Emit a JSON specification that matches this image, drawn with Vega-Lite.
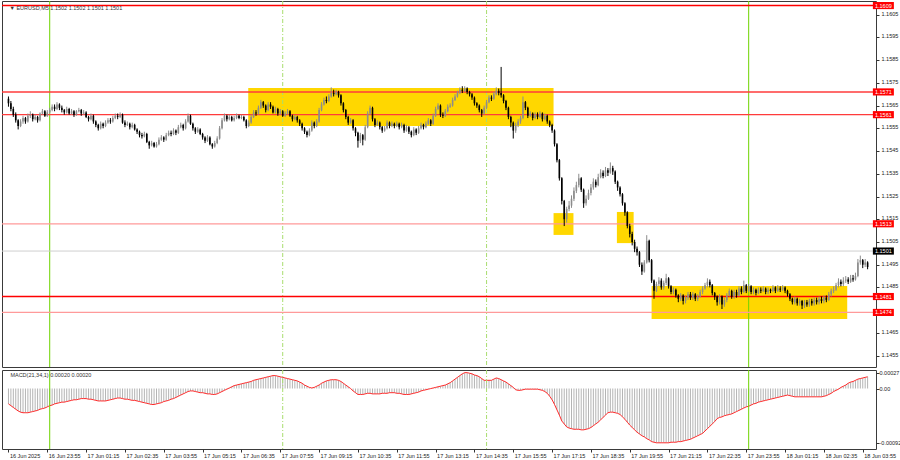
{
"$schema": "https://vega.github.io/schema/vega-lite/v6.json",
"padding": 0,
"spacing": 1,
"background": "white",
"config": {
  "view": {"stroke": "#3a3a3a", "strokeWidth": 1},
  "font": "Liberation Sans",
  "axis": {"labelFont": "Liberation Sans", "labelFontSize": 5.5, "labelColor": "#222222", "tickColor": "#333333", "tickSize": 3, "domain": false, "grid": false, "title": null, "labelOverlap": false, "labelFlush": false}
},
"datasets": {
"bars": [
{"i":0,"o":1.1568,"h":1.1569,"l":1.15645,"c":1.1566,"m":-0.00026},
{"i":1,"o":1.1566,"h":1.1567,"l":1.15625,"c":1.15635,"m":-0.00029},
{"i":2,"o":1.15635,"h":1.15645,"l":1.156,"c":1.1561,"m":-0.00032},
{"i":3,"o":1.1561,"h":1.1562,"l":1.15575,"c":1.15585,"m":-0.00035},
{"i":4,"o":1.15585,"h":1.1559,"l":1.15545,"c":1.1556,"m":-0.00038},
{"i":5,"o":1.1556,"h":1.1559,"l":1.15555,"c":1.1558,"m":-0.0004},
{"i":6,"o":1.1558,"h":1.15605,"l":1.1557,"c":1.15595,"m":-0.00041},
{"i":7,"o":1.15595,"h":1.156,"l":1.1557,"c":1.1558,"m":-0.00041},
{"i":8,"o":1.1558,"h":1.15615,"l":1.15575,"c":1.15605,"m":-0.00041},
{"i":9,"o":1.15605,"h":1.15625,"l":1.15595,"c":1.1561,"m":-0.0004},
{"i":10,"o":1.1561,"h":1.15615,"l":1.1558,"c":1.1559,"m":-0.00039},
{"i":11,"o":1.1559,"h":1.1561,"l":1.15585,"c":1.156,"m":-0.00038},
{"i":12,"o":1.156,"h":1.15605,"l":1.15575,"c":1.15585,"m":-0.00037},
{"i":13,"o":1.15585,"h":1.1562,"l":1.1558,"c":1.15615,"m":-0.00035},
{"i":14,"o":1.15615,"h":1.15635,"l":1.1561,"c":1.15625,"m":-0.00034},
{"i":15,"o":1.15625,"h":1.1563,"l":1.156,"c":1.15605,"m":-0.00033},
{"i":16,"o":1.15605,"h":1.1563,"l":1.156,"c":1.1562,"m":-0.00031},
{"i":17,"o":1.1562,"h":1.1564,"l":1.15615,"c":1.1563,"m":-0.00029},
{"i":18,"o":1.1563,"h":1.15655,"l":1.15625,"c":1.15645,"m":-0.00028},
{"i":19,"o":1.15645,"h":1.15655,"l":1.15625,"c":1.15635,"m":-0.00026},
{"i":20,"o":1.15635,"h":1.15665,"l":1.1563,"c":1.15655,"m":-0.00025},
{"i":21,"o":1.15655,"h":1.1566,"l":1.1563,"c":1.1564,"m":-0.00024},
{"i":22,"o":1.1564,"h":1.1565,"l":1.1562,"c":1.1563,"m":-0.00023},
{"i":23,"o":1.1563,"h":1.15635,"l":1.1561,"c":1.1562,"m":-0.00023},
{"i":24,"o":1.1562,"h":1.15645,"l":1.15615,"c":1.15635,"m":-0.00022},
{"i":25,"o":1.15635,"h":1.1564,"l":1.1561,"c":1.15615,"m":-0.00021},
{"i":26,"o":1.15615,"h":1.15635,"l":1.1561,"c":1.15625,"m":-0.0002},
{"i":27,"o":1.15625,"h":1.1563,"l":1.156,"c":1.1561,"m":-0.00019},
{"i":28,"o":1.1561,"h":1.1563,"l":1.15605,"c":1.15625,"m":-0.00019},
{"i":29,"o":1.15625,"h":1.1564,"l":1.1562,"c":1.1563,"m":-0.00018},
{"i":30,"o":1.1563,"h":1.15635,"l":1.15605,"c":1.15615,"m":-0.00017},
{"i":31,"o":1.15615,"h":1.1563,"l":1.1561,"c":1.1562,"m":-0.00017},
{"i":32,"o":1.1562,"h":1.15625,"l":1.15595,"c":1.156,"m":-0.00017},
{"i":33,"o":1.156,"h":1.15605,"l":1.1558,"c":1.1559,"m":-0.00018},
{"i":34,"o":1.1559,"h":1.15615,"l":1.15585,"c":1.15605,"m":-0.00018},
{"i":35,"o":1.15605,"h":1.1561,"l":1.1557,"c":1.1558,"m":-0.00019},
{"i":36,"o":1.1558,"h":1.15585,"l":1.15555,"c":1.15565,"m":-0.0002},
{"i":37,"o":1.15565,"h":1.1557,"l":1.1554,"c":1.1555,"m":-0.00021},
{"i":38,"o":1.1555,"h":1.1558,"l":1.15545,"c":1.1557,"m":-0.00021},
{"i":39,"o":1.1557,"h":1.15575,"l":1.1555,"c":1.1556,"m":-0.00021},
{"i":40,"o":1.1556,"h":1.15585,"l":1.15555,"c":1.15575,"m":-0.00021},
{"i":41,"o":1.15575,"h":1.15595,"l":1.1557,"c":1.15585,"m":-0.0002},
{"i":42,"o":1.15585,"h":1.15595,"l":1.1557,"c":1.1558,"m":-0.00019},
{"i":43,"o":1.1558,"h":1.15605,"l":1.15575,"c":1.15595,"m":-0.00018},
{"i":44,"o":1.15595,"h":1.15615,"l":1.1559,"c":1.15605,"m":-0.00017},
{"i":45,"o":1.15605,"h":1.15615,"l":1.1559,"c":1.156,"m":-0.00016},
{"i":46,"o":1.156,"h":1.1562,"l":1.15595,"c":1.1561,"m":-0.00016},
{"i":47,"o":1.1561,"h":1.15615,"l":1.1557,"c":1.15575,"m":-0.00017},
{"i":48,"o":1.15575,"h":1.15585,"l":1.15555,"c":1.15565,"m":-0.00018},
{"i":49,"o":1.15565,"h":1.1558,"l":1.1556,"c":1.1557,"m":-0.00018},
{"i":50,"o":1.1557,"h":1.15575,"l":1.15545,"c":1.15555,"m":-0.00019},
{"i":51,"o":1.15555,"h":1.15575,"l":1.1555,"c":1.15565,"m":-0.0002},
{"i":52,"o":1.15565,"h":1.1557,"l":1.1554,"c":1.15545,"m":-0.0002},
{"i":53,"o":1.15545,"h":1.1555,"l":1.15525,"c":1.15535,"m":-0.00021},
{"i":54,"o":1.15535,"h":1.1554,"l":1.1551,"c":1.1552,"m":-0.00022},
{"i":55,"o":1.1552,"h":1.1553,"l":1.15505,"c":1.15515,"m":-0.00023},
{"i":56,"o":1.15515,"h":1.15535,"l":1.1551,"c":1.15525,"m":-0.00024},
{"i":57,"o":1.15525,"h":1.1553,"l":1.15485,"c":1.1549,"m":-0.00025},
{"i":58,"o":1.1549,"h":1.15495,"l":1.1546,"c":1.15475,"m":-0.00026},
{"i":59,"o":1.15475,"h":1.15495,"l":1.1547,"c":1.15485,"m":-0.00027},
{"i":60,"o":1.15485,"h":1.1549,"l":1.15465,"c":1.1547,"m":-0.00027},
{"i":61,"o":1.1547,"h":1.1549,"l":1.15465,"c":1.1548,"m":-0.00026},
{"i":62,"o":1.1548,"h":1.1551,"l":1.15475,"c":1.155,"m":-0.00025},
{"i":63,"o":1.155,"h":1.1552,"l":1.15495,"c":1.1551,"m":-0.00024},
{"i":64,"o":1.1551,"h":1.15515,"l":1.1549,"c":1.155,"m":-0.00022},
{"i":65,"o":1.155,"h":1.1553,"l":1.15495,"c":1.1552,"m":-0.00021},
{"i":66,"o":1.1552,"h":1.1554,"l":1.15515,"c":1.1553,"m":-0.0002},
{"i":67,"o":1.1553,"h":1.1554,"l":1.15515,"c":1.15525,"m":-0.00018},
{"i":68,"o":1.15525,"h":1.1555,"l":1.1552,"c":1.1554,"m":-0.00017},
{"i":69,"o":1.1554,"h":1.15545,"l":1.1552,"c":1.1553,"m":-0.00015},
{"i":70,"o":1.1553,"h":1.15565,"l":1.15525,"c":1.15555,"m":-0.00013},
{"i":71,"o":1.15555,"h":1.15575,"l":1.1555,"c":1.15565,"m":-0.00011},
{"i":72,"o":1.15565,"h":1.1557,"l":1.1554,"c":1.1555,"m":-0.00009},
{"i":73,"o":1.1555,"h":1.1559,"l":1.15545,"c":1.1558,"m":-0.00007},
{"i":74,"o":1.1558,"h":1.15615,"l":1.15575,"c":1.15605,"m":-0.00005},
{"i":75,"o":1.15605,"h":1.1561,"l":1.15565,"c":1.1557,"m":-0.00004},
{"i":76,"o":1.1557,"h":1.15575,"l":1.1554,"c":1.1555,"m":-0.00004},
{"i":77,"o":1.1555,"h":1.15555,"l":1.15525,"c":1.15535,"m":-0.00005},
{"i":78,"o":1.15535,"h":1.15555,"l":1.1553,"c":1.15545,"m":-0.00006},
{"i":79,"o":1.15545,"h":1.1555,"l":1.1552,"c":1.15525,"m":-0.00007},
{"i":80,"o":1.15525,"h":1.1553,"l":1.155,"c":1.1551,"m":-0.00007},
{"i":81,"o":1.1551,"h":1.15515,"l":1.15485,"c":1.15495,"m":-0.00008},
{"i":82,"o":1.15495,"h":1.1552,"l":1.1549,"c":1.1551,"m":-0.00009},
{"i":83,"o":1.1551,"h":1.15515,"l":1.15475,"c":1.1548,"m":-0.00009},
{"i":84,"o":1.1548,"h":1.15485,"l":1.1546,"c":1.1547,"m":-0.0001},
{"i":85,"o":1.1547,"h":1.15495,"l":1.15465,"c":1.15485,"m":-0.0001},
{"i":86,"o":1.15485,"h":1.15515,"l":1.1548,"c":1.15505,"m":-0.00009},
{"i":87,"o":1.15505,"h":1.1556,"l":1.155,"c":1.1555,"m":-0.00007},
{"i":88,"o":1.1555,"h":1.15595,"l":1.15545,"c":1.15585,"m":-0.00005},
{"i":89,"o":1.15585,"h":1.15615,"l":1.1558,"c":1.15605,"m":-0.00003},
{"i":90,"o":1.15605,"h":1.1561,"l":1.1558,"c":1.1559,"m":-0.00001},
{"i":91,"o":1.1559,"h":1.1561,"l":1.15585,"c":1.156,"m":0.00001},
{"i":92,"o":1.156,"h":1.15605,"l":1.1558,"c":1.15585,"m":0.00003},
{"i":93,"o":1.15585,"h":1.15605,"l":1.1558,"c":1.15595,"m":0.00005},
{"i":94,"o":1.15595,"h":1.15615,"l":1.1559,"c":1.15605,"m":0.00006},
{"i":95,"o":1.15605,"h":1.1561,"l":1.1559,"c":1.15595,"m":0.00007},
{"i":96,"o":1.15595,"h":1.1561,"l":1.1559,"c":1.156,"m":0.00008},
{"i":97,"o":1.156,"h":1.15605,"l":1.1558,"c":1.15585,"m":0.00009},
{"i":98,"o":1.15585,"h":1.1559,"l":1.1555,"c":1.1556,"m":0.0001},
{"i":99,"o":1.1556,"h":1.15585,"l":1.15555,"c":1.15575,"m":0.00011},
{"i":100,"o":1.15575,"h":1.1561,"l":1.1557,"c":1.156,"m":0.00012},
{"i":101,"o":1.156,"h":1.1563,"l":1.15595,"c":1.1562,"m":0.00014},
{"i":102,"o":1.1562,"h":1.1563,"l":1.15605,"c":1.15615,"m":0.00015},
{"i":103,"o":1.15615,"h":1.1565,"l":1.1561,"c":1.1564,"m":0.00016},
{"i":104,"o":1.1564,"h":1.15675,"l":1.15635,"c":1.15665,"m":0.00017},
{"i":105,"o":1.15665,"h":1.1567,"l":1.1564,"c":1.1565,"m":0.00018},
{"i":106,"o":1.1565,"h":1.15655,"l":1.1562,"c":1.1563,"m":0.00019},
{"i":107,"o":1.1563,"h":1.15665,"l":1.15625,"c":1.15655,"m":0.0002},
{"i":108,"o":1.15655,"h":1.15665,"l":1.15635,"c":1.15645,"m":0.00021},
{"i":109,"o":1.15645,"h":1.1565,"l":1.15615,"c":1.1562,"m":0.00022},
{"i":110,"o":1.1562,"h":1.15645,"l":1.15615,"c":1.15635,"m":0.00022},
{"i":111,"o":1.15635,"h":1.1564,"l":1.15605,"c":1.15615,"m":0.00021},
{"i":112,"o":1.15615,"h":1.15635,"l":1.1561,"c":1.15625,"m":0.0002},
{"i":113,"o":1.15625,"h":1.1563,"l":1.156,"c":1.15605,"m":0.00019},
{"i":114,"o":1.15605,"h":1.15625,"l":1.156,"c":1.15615,"m":0.00018},
{"i":115,"o":1.15615,"h":1.15635,"l":1.1561,"c":1.15625,"m":0.00017},
{"i":116,"o":1.15625,"h":1.1563,"l":1.156,"c":1.15605,"m":0.00016},
{"i":117,"o":1.15605,"h":1.1561,"l":1.1558,"c":1.1559,"m":0.00015},
{"i":118,"o":1.1559,"h":1.1561,"l":1.15585,"c":1.156,"m":0.00014},
{"i":119,"o":1.156,"h":1.15605,"l":1.15575,"c":1.15585,"m":0.00013},
{"i":120,"o":1.15585,"h":1.1559,"l":1.1556,"c":1.1557,"m":0.00011},
{"i":121,"o":1.1557,"h":1.15575,"l":1.1554,"c":1.1555,"m":0.00009},
{"i":122,"o":1.1555,"h":1.15555,"l":1.15525,"c":1.15535,"m":0.00006},
{"i":123,"o":1.15535,"h":1.1554,"l":1.1551,"c":1.1552,"m":0.00004},
{"i":124,"o":1.1552,"h":1.1555,"l":1.15515,"c":1.1554,"m":0.00002},
{"i":125,"o":1.1554,"h":1.15585,"l":1.15535,"c":1.15575,"m":0.00001},
{"i":126,"o":1.15575,"h":1.1558,"l":1.1555,"c":1.1556,"m":0.00002},
{"i":127,"o":1.1556,"h":1.1559,"l":1.15555,"c":1.1558,"m":0.00004},
{"i":128,"o":1.1558,"h":1.1564,"l":1.15575,"c":1.1563,"m":0.00006},
{"i":129,"o":1.1563,"h":1.15665,"l":1.15625,"c":1.15655,"m":0.00009},
{"i":130,"o":1.15655,"h":1.15685,"l":1.1565,"c":1.15675,"m":0.00011},
{"i":131,"o":1.15675,"h":1.1569,"l":1.1566,"c":1.1567,"m":0.00013},
{"i":132,"o":1.1567,"h":1.157,"l":1.15665,"c":1.1569,"m":0.00014},
{"i":133,"o":1.1569,"h":1.1573,"l":1.15685,"c":1.15705,"m":0.00015},
{"i":134,"o":1.15705,"h":1.1572,"l":1.1569,"c":1.157,"m":0.00015},
{"i":135,"o":1.157,"h":1.1572,"l":1.15695,"c":1.1571,"m":0.00015},
{"i":136,"o":1.1571,"h":1.15715,"l":1.15685,"c":1.15695,"m":0.00014},
{"i":137,"o":1.15695,"h":1.157,"l":1.1565,"c":1.1566,"m":0.00012},
{"i":138,"o":1.1566,"h":1.15665,"l":1.1562,"c":1.1563,"m":0.00009},
{"i":139,"o":1.1563,"h":1.15635,"l":1.1559,"c":1.156,"m":0.00006},
{"i":140,"o":1.156,"h":1.15605,"l":1.15565,"c":1.15575,"m":0.00003},
{"i":141,"o":1.15575,"h":1.15595,"l":1.1557,"c":1.15585,"m":0},
{"i":142,"o":1.15585,"h":1.1559,"l":1.1554,"c":1.1555,"m":-0.00004},
{"i":143,"o":1.1555,"h":1.15555,"l":1.15515,"c":1.1553,"m":-0.00007},
{"i":144,"o":1.1553,"h":1.15535,"l":1.15465,"c":1.15495,"m":-0.0001},
{"i":145,"o":1.15495,"h":1.1553,"l":1.15485,"c":1.1552,"m":-0.0001},
{"i":146,"o":1.1552,"h":1.15525,"l":1.15475,"c":1.155,"m":-0.0001},
{"i":147,"o":1.155,"h":1.15565,"l":1.15495,"c":1.15555,"m":-0.00009},
{"i":148,"o":1.15555,"h":1.15625,"l":1.1555,"c":1.15615,"m":-0.00008},
{"i":149,"o":1.15615,"h":1.1565,"l":1.1561,"c":1.1564,"m":-0.00008},
{"i":150,"o":1.1564,"h":1.15645,"l":1.1558,"c":1.1559,"m":-0.00009},
{"i":151,"o":1.1559,"h":1.15595,"l":1.15555,"c":1.15565,"m":-0.00009},
{"i":152,"o":1.15565,"h":1.15585,"l":1.1556,"c":1.15575,"m":-0.00009},
{"i":153,"o":1.15575,"h":1.1558,"l":1.15545,"c":1.15555,"m":-0.00009},
{"i":154,"o":1.15555,"h":1.1556,"l":1.1553,"c":1.1554,"m":-0.00008},
{"i":155,"o":1.1554,"h":1.1556,"l":1.15535,"c":1.1555,"m":-0.00008},
{"i":156,"o":1.1555,"h":1.15585,"l":1.15545,"c":1.15575,"m":-0.00008},
{"i":157,"o":1.15575,"h":1.1558,"l":1.1555,"c":1.1556,"m":-0.00007},
{"i":158,"o":1.1556,"h":1.1558,"l":1.15555,"c":1.1557,"m":-0.00007},
{"i":159,"o":1.1557,"h":1.15575,"l":1.1555,"c":1.1556,"m":-0.00007},
{"i":160,"o":1.1556,"h":1.1558,"l":1.15555,"c":1.1557,"m":-0.00008},
{"i":161,"o":1.1557,"h":1.15575,"l":1.15545,"c":1.15555,"m":-0.00008},
{"i":162,"o":1.15555,"h":1.15575,"l":1.1555,"c":1.15565,"m":-0.00009},
{"i":163,"o":1.15565,"h":1.1557,"l":1.1553,"c":1.1554,"m":-0.0001},
{"i":164,"o":1.1554,"h":1.15565,"l":1.15535,"c":1.15555,"m":-0.0001},
{"i":165,"o":1.15555,"h":1.1556,"l":1.15525,"c":1.15535,"m":-0.0001},
{"i":166,"o":1.15535,"h":1.1554,"l":1.1551,"c":1.1552,"m":-0.00009},
{"i":167,"o":1.1552,"h":1.15555,"l":1.15515,"c":1.15545,"m":-0.00008},
{"i":168,"o":1.15545,"h":1.1555,"l":1.1552,"c":1.1553,"m":-0.00007},
{"i":169,"o":1.1553,"h":1.1556,"l":1.15525,"c":1.1555,"m":-0.00006},
{"i":170,"o":1.1555,"h":1.15575,"l":1.15545,"c":1.15565,"m":-0.00004},
{"i":171,"o":1.15565,"h":1.1557,"l":1.15545,"c":1.15555,"m":-0.00003},
{"i":172,"o":1.15555,"h":1.1558,"l":1.1555,"c":1.1557,"m":-0.00002},
{"i":173,"o":1.1557,"h":1.15595,"l":1.15565,"c":1.15585,"m":-0.00001},
{"i":174,"o":1.15585,"h":1.1559,"l":1.1556,"c":1.1557,"m":0},
{"i":175,"o":1.1557,"h":1.15615,"l":1.15565,"c":1.15605,"m":0.00001},
{"i":176,"o":1.15605,"h":1.15645,"l":1.156,"c":1.15635,"m":0.00002},
{"i":177,"o":1.15635,"h":1.1566,"l":1.1563,"c":1.1565,"m":0.00003},
{"i":178,"o":1.1565,"h":1.15655,"l":1.156,"c":1.1561,"m":0.00004},
{"i":179,"o":1.1561,"h":1.1562,"l":1.15595,"c":1.15605,"m":0.00005},
{"i":180,"o":1.15605,"h":1.15635,"l":1.156,"c":1.15625,"m":0.00006},
{"i":181,"o":1.15625,"h":1.15655,"l":1.1562,"c":1.15645,"m":0.00008},
{"i":182,"o":1.15645,"h":1.1566,"l":1.1564,"c":1.1565,"m":0.0001},
{"i":183,"o":1.1565,"h":1.15685,"l":1.15645,"c":1.15675,"m":0.00013},
{"i":184,"o":1.15675,"h":1.157,"l":1.1567,"c":1.1569,"m":0.00016},
{"i":185,"o":1.1569,"h":1.15715,"l":1.15685,"c":1.15705,"m":0.00019},
{"i":186,"o":1.15705,"h":1.1573,"l":1.157,"c":1.1572,"m":0.00022},
{"i":187,"o":1.1572,"h":1.15735,"l":1.15705,"c":1.15715,"m":0.00025},
{"i":188,"o":1.15715,"h":1.15735,"l":1.1571,"c":1.15725,"m":0.00027},
{"i":189,"o":1.15725,"h":1.1573,"l":1.157,"c":1.1571,"m":0.00027},
{"i":190,"o":1.1571,"h":1.15715,"l":1.1569,"c":1.157,"m":0.00026},
{"i":191,"o":1.157,"h":1.15705,"l":1.15675,"c":1.15685,"m":0.00025},
{"i":192,"o":1.15685,"h":1.1569,"l":1.1565,"c":1.1566,"m":0.00023},
{"i":193,"o":1.1566,"h":1.15665,"l":1.1564,"c":1.1565,"m":0.00022},
{"i":194,"o":1.1565,"h":1.15655,"l":1.1562,"c":1.1563,"m":0.0002},
{"i":195,"o":1.1563,"h":1.15635,"l":1.156,"c":1.15615,"m":0.00017},
{"i":196,"o":1.15615,"h":1.1565,"l":1.1561,"c":1.1564,"m":0.00014},
{"i":197,"o":1.1564,"h":1.15675,"l":1.15635,"c":1.15665,"m":0.00014},
{"i":198,"o":1.15665,"h":1.15695,"l":1.1566,"c":1.15685,"m":0.00014},
{"i":199,"o":1.15685,"h":1.15695,"l":1.1567,"c":1.1568,"m":0.00014},
{"i":200,"o":1.1568,"h":1.1571,"l":1.15675,"c":1.157,"m":0.00016},
{"i":201,"o":1.157,"h":1.1573,"l":1.15695,"c":1.15715,"m":0.00018},
{"i":202,"o":1.15715,"h":1.15725,"l":1.15695,"c":1.15705,"m":0.00017},
{"i":203,"o":1.15705,"h":1.1582,"l":1.15685,"c":1.15695,"m":0.00015},
{"i":204,"o":1.15695,"h":1.157,"l":1.1566,"c":1.1567,"m":0.00013},
{"i":205,"o":1.1567,"h":1.15675,"l":1.1563,"c":1.1564,"m":0.00011},
{"i":206,"o":1.1564,"h":1.15645,"l":1.1559,"c":1.156,"m":0.00008},
{"i":207,"o":1.156,"h":1.15605,"l":1.15555,"c":1.15575,"m":0.00005},
{"i":208,"o":1.15575,"h":1.1558,"l":1.15505,"c":1.1554,"m":0.00002},
{"i":209,"o":1.1554,"h":1.15575,"l":1.1553,"c":1.15565,"m":-0.00002},
{"i":210,"o":1.15565,"h":1.1559,"l":1.15555,"c":1.1558,"m":-0.00003},
{"i":211,"o":1.1558,"h":1.15605,"l":1.1557,"c":1.15595,"m":-0.00003},
{"i":212,"o":1.15595,"h":1.1569,"l":1.1559,"c":1.15665,"m":-0.00002},
{"i":213,"o":1.15665,"h":1.1567,"l":1.1563,"c":1.1564,"m":-0.00001},
{"i":214,"o":1.1564,"h":1.15645,"l":1.15595,"c":1.15605,"m":-0.00001},
{"i":215,"o":1.15605,"h":1.15625,"l":1.156,"c":1.15615,"m":-0.00001},
{"i":216,"o":1.15615,"h":1.1562,"l":1.15585,"c":1.15595,"m":-0.00001},
{"i":217,"o":1.15595,"h":1.1562,"l":1.1559,"c":1.1561,"m":-0.00001},
{"i":218,"o":1.1561,"h":1.1562,"l":1.1559,"c":1.156,"m":-0.00001},
{"i":219,"o":1.156,"h":1.15625,"l":1.15595,"c":1.15615,"m":-0.00002},
{"i":220,"o":1.15615,"h":1.1562,"l":1.1558,"c":1.1559,"m":-0.00003},
{"i":221,"o":1.1559,"h":1.15615,"l":1.15585,"c":1.15605,"m":-0.00005},
{"i":222,"o":1.15605,"h":1.1561,"l":1.1557,"c":1.1558,"m":-0.00008},
{"i":223,"o":1.1558,"h":1.15585,"l":1.15555,"c":1.15565,"m":-0.00013},
{"i":224,"o":1.15565,"h":1.1557,"l":1.1553,"c":1.1554,"m":-0.00019},
{"i":225,"o":1.1554,"h":1.15545,"l":1.1547,"c":1.1548,"m":-0.00027},
{"i":226,"o":1.1548,"h":1.15485,"l":1.154,"c":1.1541,"m":-0.00036},
{"i":227,"o":1.1541,"h":1.15415,"l":1.1532,"c":1.1533,"m":-0.00045},
{"i":228,"o":1.1533,"h":1.15335,"l":1.15215,"c":1.1523,"m":-0.00055},
{"i":229,"o":1.1523,"h":1.15235,"l":1.1512,"c":1.1515,"m":-0.0006},
{"i":230,"o":1.1515,"h":1.15205,"l":1.15135,"c":1.15195,"m":-0.00065},
{"i":231,"o":1.15195,"h":1.1523,"l":1.15185,"c":1.1521,"m":-0.00067},
{"i":232,"o":1.1521,"h":1.15255,"l":1.152,"c":1.1524,"m":-0.00068},
{"i":233,"o":1.1524,"h":1.1529,"l":1.1523,"c":1.15275,"m":-0.00069},
{"i":234,"o":1.15275,"h":1.15315,"l":1.15265,"c":1.153,"m":-0.00069},
{"i":235,"o":1.153,"h":1.1535,"l":1.1529,"c":1.1533,"m":-0.00069},
{"i":236,"o":1.1533,"h":1.15335,"l":1.1527,"c":1.1528,"m":-0.0007},
{"i":237,"o":1.1528,"h":1.15285,"l":1.152,"c":1.1522,"m":-0.0007},
{"i":238,"o":1.1522,"h":1.15255,"l":1.1521,"c":1.1524,"m":-0.00069},
{"i":239,"o":1.1524,"h":1.1528,"l":1.15235,"c":1.15265,"m":-0.00068},
{"i":240,"o":1.15265,"h":1.15305,"l":1.15255,"c":1.1529,"m":-0.00066},
{"i":241,"o":1.1529,"h":1.1533,"l":1.1528,"c":1.15315,"m":-0.00063},
{"i":242,"o":1.15315,"h":1.15325,"l":1.1529,"c":1.153,"m":-0.0006},
{"i":243,"o":1.153,"h":1.1535,"l":1.15295,"c":1.15335,"m":-0.00057},
{"i":244,"o":1.15335,"h":1.1537,"l":1.1533,"c":1.15355,"m":-0.00053},
{"i":245,"o":1.15355,"h":1.15365,"l":1.1533,"c":1.1534,"m":-0.00049},
{"i":246,"o":1.1534,"h":1.1538,"l":1.15335,"c":1.15365,"m":-0.00045},
{"i":247,"o":1.15365,"h":1.15375,"l":1.1534,"c":1.15355,"m":-0.00041},
{"i":248,"o":1.15355,"h":1.154,"l":1.1535,"c":1.15375,"m":-0.0004},
{"i":249,"o":1.15375,"h":1.15385,"l":1.15345,"c":1.1536,"m":-0.0004},
{"i":250,"o":1.1536,"h":1.15365,"l":1.15305,"c":1.15315,"m":-0.00041},
{"i":251,"o":1.15315,"h":1.1532,"l":1.15275,"c":1.1529,"m":-0.00042},
{"i":252,"o":1.1529,"h":1.15295,"l":1.1525,"c":1.1526,"m":-0.00044},
{"i":253,"o":1.1526,"h":1.15265,"l":1.1521,"c":1.1522,"m":-0.00048},
{"i":254,"o":1.1522,"h":1.15225,"l":1.15165,"c":1.1518,"m":-0.00052},
{"i":255,"o":1.1518,"h":1.15185,"l":1.1511,"c":1.1512,"m":-0.00057},
{"i":256,"o":1.1512,"h":1.1513,"l":1.1507,"c":1.15085,"m":-0.00062},
{"i":257,"o":1.15085,"h":1.15095,"l":1.15035,"c":1.1505,"m":-0.00066},
{"i":258,"o":1.1505,"h":1.1506,"l":1.15005,"c":1.1502,"m":-0.0007},
{"i":259,"o":1.1502,"h":1.1503,"l":1.1499,"c":1.15005,"m":-0.00074},
{"i":260,"o":1.15005,"h":1.1501,"l":1.1494,"c":1.1495,"m":-0.00077},
{"i":261,"o":1.1495,"h":1.1496,"l":1.14905,"c":1.1492,"m":-0.0008},
{"i":262,"o":1.1492,"h":1.1497,"l":1.14915,"c":1.1496,"m":-0.00082},
{"i":263,"o":1.1496,"h":1.1508,"l":1.14955,"c":1.15055,"m":-0.00085},
{"i":264,"o":1.15055,"h":1.1506,"l":1.1496,"c":1.1497,"m":-0.00087},
{"i":265,"o":1.1497,"h":1.14975,"l":1.1487,"c":1.1488,"m":-0.0009},
{"i":266,"o":1.1488,"h":1.14885,"l":1.148,"c":1.14835,"m":-0.00091},
{"i":267,"o":1.14835,"h":1.14875,"l":1.1483,"c":1.14865,"m":-0.00092},
{"i":268,"o":1.14865,"h":1.14895,"l":1.14855,"c":1.1488,"m":-0.00092},
{"i":269,"o":1.1488,"h":1.1489,"l":1.1484,"c":1.1485,"m":-0.00092},
{"i":270,"o":1.1485,"h":1.1488,"l":1.1484,"c":1.1487,"m":-0.00092},
{"i":271,"o":1.1487,"h":1.1491,"l":1.1486,"c":1.1489,"m":-0.00092},
{"i":272,"o":1.1489,"h":1.14895,"l":1.14845,"c":1.14855,"m":-0.00092},
{"i":273,"o":1.14855,"h":1.1486,"l":1.1482,"c":1.1483,"m":-0.00091},
{"i":274,"o":1.1483,"h":1.1485,"l":1.1482,"c":1.1484,"m":-0.00091},
{"i":275,"o":1.1484,"h":1.14845,"l":1.14805,"c":1.14815,"m":-0.00091},
{"i":276,"o":1.14815,"h":1.1482,"l":1.14785,"c":1.148,"m":-0.0009},
{"i":277,"o":1.148,"h":1.14825,"l":1.1479,"c":1.14815,"m":-0.0009},
{"i":278,"o":1.14815,"h":1.1482,"l":1.14775,"c":1.1479,"m":-0.00089},
{"i":279,"o":1.1479,"h":1.14815,"l":1.1478,"c":1.14805,"m":-0.00088},
{"i":280,"o":1.14805,"h":1.1483,"l":1.14795,"c":1.1482,"m":-0.00087},
{"i":281,"o":1.1482,"h":1.1483,"l":1.14795,"c":1.14805,"m":-0.00086},
{"i":282,"o":1.14805,"h":1.1483,"l":1.14795,"c":1.1482,"m":-0.00084},
{"i":283,"o":1.1482,"h":1.14825,"l":1.1479,"c":1.148,"m":-0.00082},
{"i":284,"o":1.148,"h":1.1482,"l":1.1479,"c":1.1481,"m":-0.0008},
{"i":285,"o":1.1481,"h":1.1484,"l":1.14805,"c":1.1483,"m":-0.00078},
{"i":286,"o":1.1483,"h":1.14855,"l":1.1482,"c":1.14845,"m":-0.00076},
{"i":287,"o":1.14845,"h":1.1487,"l":1.1484,"c":1.1486,"m":-0.00072},
{"i":288,"o":1.1486,"h":1.1489,"l":1.1485,"c":1.14875,"m":-0.00068},
{"i":289,"o":1.14875,"h":1.14885,"l":1.1485,"c":1.1486,"m":-0.00064},
{"i":290,"o":1.1486,"h":1.14865,"l":1.14815,"c":1.14825,"m":-0.0006},
{"i":291,"o":1.14825,"h":1.1483,"l":1.14795,"c":1.1481,"m":-0.00056},
{"i":292,"o":1.1481,"h":1.14815,"l":1.1477,"c":1.14785,"m":-0.00051},
{"i":293,"o":1.14785,"h":1.1482,"l":1.14775,"c":1.1481,"m":-0.00049},
{"i":294,"o":1.1481,"h":1.14815,"l":1.14755,"c":1.14775,"m":-0.00048},
{"i":295,"o":1.14775,"h":1.14805,"l":1.14765,"c":1.14795,"m":-0.00046},
{"i":296,"o":1.14795,"h":1.14825,"l":1.14785,"c":1.14815,"m":-0.00045},
{"i":297,"o":1.14815,"h":1.14845,"l":1.1481,"c":1.14835,"m":-0.00044},
{"i":298,"o":1.14835,"h":1.1484,"l":1.148,"c":1.1481,"m":-0.00043},
{"i":299,"o":1.1481,"h":1.1484,"l":1.148,"c":1.1483,"m":-0.00041},
{"i":300,"o":1.1483,"h":1.1484,"l":1.14805,"c":1.14815,"m":-0.00039},
{"i":301,"o":1.14815,"h":1.14855,"l":1.1481,"c":1.14845,"m":-0.00037},
{"i":302,"o":1.14845,"h":1.14855,"l":1.1482,"c":1.1483,"m":-0.00035},
{"i":303,"o":1.1483,"h":1.1488,"l":1.14825,"c":1.1486,"m":-0.00033},
{"i":304,"o":1.1486,"h":1.14865,"l":1.14825,"c":1.14835,"m":-0.00031},
{"i":305,"o":1.14835,"h":1.14865,"l":1.1483,"c":1.14855,"m":-0.0003},
{"i":306,"o":1.14855,"h":1.1486,"l":1.1482,"c":1.1483,"m":-0.00028},
{"i":307,"o":1.1483,"h":1.1485,"l":1.1482,"c":1.1484,"m":-0.00026},
{"i":308,"o":1.1484,"h":1.14845,"l":1.14815,"c":1.14825,"m":-0.00025},
{"i":309,"o":1.14825,"h":1.1485,"l":1.1482,"c":1.1484,"m":-0.00023},
{"i":310,"o":1.1484,"h":1.1485,"l":1.14825,"c":1.14835,"m":-0.00022},
{"i":311,"o":1.14835,"h":1.14855,"l":1.1483,"c":1.14845,"m":-0.00021},
{"i":312,"o":1.14845,"h":1.1485,"l":1.1482,"c":1.1483,"m":-0.0002},
{"i":313,"o":1.1483,"h":1.1485,"l":1.1482,"c":1.1484,"m":-0.00019},
{"i":314,"o":1.1484,"h":1.14845,"l":1.14825,"c":1.14835,"m":-0.00018},
{"i":315,"o":1.14835,"h":1.1486,"l":1.1483,"c":1.1485,"m":-0.00017},
{"i":316,"o":1.1485,"h":1.14855,"l":1.14825,"c":1.14835,"m":-0.00016},
{"i":317,"o":1.14835,"h":1.1486,"l":1.1483,"c":1.14845,"m":-0.00015},
{"i":318,"o":1.14845,"h":1.14855,"l":1.1483,"c":1.1484,"m":-0.00014},
{"i":319,"o":1.1484,"h":1.1486,"l":1.14835,"c":1.1485,"m":-0.00013},
{"i":320,"o":1.1485,"h":1.14855,"l":1.14825,"c":1.14835,"m":-0.00012},
{"i":321,"o":1.14835,"h":1.1484,"l":1.1481,"c":1.1482,"m":-0.00011},
{"i":322,"o":1.1482,"h":1.14825,"l":1.1479,"c":1.148,"m":-0.00012},
{"i":323,"o":1.148,"h":1.14805,"l":1.14775,"c":1.14785,"m":-0.00013},
{"i":324,"o":1.14785,"h":1.1481,"l":1.14775,"c":1.148,"m":-0.00014},
{"i":325,"o":1.148,"h":1.14805,"l":1.1477,"c":1.1478,"m":-0.00014},
{"i":326,"o":1.1478,"h":1.148,"l":1.1477,"c":1.1479,"m":-0.00014},
{"i":327,"o":1.1479,"h":1.14795,"l":1.14755,"c":1.1477,"m":-0.00014},
{"i":328,"o":1.1477,"h":1.14795,"l":1.1476,"c":1.14785,"m":-0.00014},
{"i":329,"o":1.14785,"h":1.14795,"l":1.14765,"c":1.14775,"m":-0.00014},
{"i":330,"o":1.14775,"h":1.148,"l":1.14765,"c":1.1479,"m":-0.00014},
{"i":331,"o":1.1479,"h":1.148,"l":1.1477,"c":1.1478,"m":-0.00014},
{"i":332,"o":1.1478,"h":1.14805,"l":1.1477,"c":1.14795,"m":-0.00014},
{"i":333,"o":1.14795,"h":1.14805,"l":1.14775,"c":1.14785,"m":-0.00014},
{"i":334,"o":1.14785,"h":1.1481,"l":1.14775,"c":1.148,"m":-0.00014},
{"i":335,"o":1.148,"h":1.1481,"l":1.1478,"c":1.1479,"m":-0.00014},
{"i":336,"o":1.1479,"h":1.14815,"l":1.1478,"c":1.14805,"m":-0.00013},
{"i":337,"o":1.14805,"h":1.14815,"l":1.14785,"c":1.14795,"m":-0.00012},
{"i":338,"o":1.14795,"h":1.1483,"l":1.1479,"c":1.1482,"m":-0.0001},
{"i":339,"o":1.1482,"h":1.14845,"l":1.1481,"c":1.14835,"m":-0.00008},
{"i":340,"o":1.14835,"h":1.14855,"l":1.14825,"c":1.1484,"m":-0.00005},
{"i":341,"o":1.1484,"h":1.1487,"l":1.14835,"c":1.1486,"m":-0.00003},
{"i":342,"o":1.1486,"h":1.1489,"l":1.1485,"c":1.14875,"m":-0.00001},
{"i":343,"o":1.14875,"h":1.14885,"l":1.14855,"c":1.14865,"m":0.00002},
{"i":344,"o":1.14865,"h":1.14895,"l":1.14855,"c":1.1488,"m":0.00004},
{"i":345,"o":1.1488,"h":1.149,"l":1.1487,"c":1.14885,"m":0.00006},
{"i":346,"o":1.14885,"h":1.14895,"l":1.14865,"c":1.14875,"m":0.00009},
{"i":347,"o":1.14875,"h":1.14905,"l":1.1487,"c":1.1489,"m":0.00011},
{"i":348,"o":1.1489,"h":1.14905,"l":1.14875,"c":1.14885,"m":0.00012},
{"i":349,"o":1.14885,"h":1.14915,"l":1.1488,"c":1.149,"m":0.00014},
{"i":350,"o":1.149,"h":1.14975,"l":1.14895,"c":1.1496,"m":0.00016},
{"i":351,"o":1.1496,"h":1.1499,"l":1.1495,"c":1.1497,"m":0.00017},
{"i":352,"o":1.1497,"h":1.14975,"l":1.14935,"c":1.1495,"m":0.00018},
{"i":353,"o":1.1495,"h":1.14975,"l":1.1494,"c":1.1496,"m":0.00019},
{"i":354,"o":1.1496,"h":1.14965,"l":1.1493,"c":1.1494,"m":0.0002}
],
"levels": [
{"p":1.1609,"kind":"major"},
{"p":1.1571,"kind":"level"},
{"p":1.1561,"kind":"level"},
{"p":1.1513,"kind":"minor"},
{"p":1.1501,"kind":"bid"},
{"p":1.1481,"kind":"major"},
{"p":1.1474,"kind":"minor"}
],
"zones": [
{"a":98.8,"b":224.6,"p1":1.15727,"p2":1.1556},
{"a":224.6,"b":232.8,"p1":1.15177,"p2":1.15081},
{"a":250.7,"b":257.6,"p1":1.15182,"p2":1.15045},
{"a":265.0,"b":345.6,"p1":1.14856,"p2":1.14711}
],
"vlines": [
{"i":17,"kind":"day"},
{"i":113,"kind":"session"},
{"i":197,"kind":"session"},
{"i":305,"kind":"day"}
]
},
"vconcat": [
{
"width": 874,
"height": 366,
"resolve": {"scale": {"color": "independent", "strokeWidth": "independent", "strokeDash": "independent"}},
"layer": [
{
"data": {"name": "zones"},
"mark": {"type": "rect", "color": "#FFD700"},
"encoding": {
"x": {"field": "a", "type": "quantitative", "scale": {"domain": [-0.6, 355.4], "nice": false, "zero": false}, "axis": null},
"x2": {"field": "b"},
"y": {"field": "p1", "type": "quantitative", "scale": {"domain": [1.145, 1.1611], "nice": false, "zero": false},
"axis": {"orient": "right", "values": [1.1455,1.1465,1.1485,1.1495,1.1505,1.1515,1.1525,1.1535,1.1545,1.1555,1.1565,1.1575,1.1585,1.1595,1.1605], "format": ".4f", "labelPadding": 2, "labelOffset": -1.5, "labelOverlap": false}},
"y2": {"field": "p2"}
}
},
{
"data": {"name": "vlines"},
"mark": {"type": "rule"},
"encoding": {
"x": {"field": "i", "type": "quantitative", "scale": {"domain": [-0.6, 355.4], "nice": false, "zero": false}, "axis": null},
"color": {"field": "kind", "type": "nominal", "scale": {"domain": ["day", "session"], "range": ["#6fd400", "#a9dd6e"]}, "legend": null},
"strokeDash": {"field": "kind", "type": "nominal", "scale": {"domain": ["day", "session"], "range": [[1, 0], [4, 2, 1, 2]]}, "legend": null}
}
},
{
"data": {"name": "levels"},
"mark": {"type": "rule"},
"encoding": {
"y": {"field": "p", "type": "quantitative", "scale": {"domain": [1.145, 1.1611], "nice": false, "zero": false},
"axis": {"orient": "right", "values": [1.1455,1.1465,1.1485,1.1495,1.1505,1.1515,1.1525,1.1535,1.1545,1.1555,1.1565,1.1575,1.1585,1.1595,1.1605], "format": ".4f", "labelPadding": 2, "labelOffset": -1.5, "labelOverlap": false}},
"color": {"field": "kind", "type": "nominal", "scale": {"domain": ["major", "level", "minor", "bid"], "range": ["#ff0000", "#ff3b3b", "#ff9a9a", "#cfcfcf"]}, "legend": null},
"strokeWidth": {"field": "kind", "type": "nominal", "scale": {"domain": ["major", "level", "minor", "bid"], "range": [1.6, 1, 1, 1]}, "legend": null}
}
},
{
"data": {"name": "bars"},
"mark": {"type": "rule", "strokeWidth": 1},
"encoding": {
"x": {"field": "i", "type": "quantitative", "scale": {"domain": [-0.6, 355.4], "nice": false, "zero": false}, "axis": null},
"y": {"field": "l", "type": "quantitative", "scale": {"domain": [1.145, 1.1611], "nice": false, "zero": false},
"axis": {"orient": "right", "values": [1.1455,1.1465,1.1485,1.1495,1.1505,1.1515,1.1525,1.1535,1.1545,1.1555,1.1565,1.1575,1.1585,1.1595,1.1605], "format": ".4f", "labelPadding": 2, "labelOffset": -1.5, "labelOverlap": false}},
"y2": {"field": "h"},
"color": {"condition": {"test": "datum.c < datum.o", "value": "#000000"}, "value": "#8c8c8c"}
}
},
{
"data": {"name": "bars"},
"mark": {"type": "bar", "width": 1.6},
"encoding": {
"x": {"field": "i", "type": "quantitative", "scale": {"domain": [-0.6, 355.4], "nice": false, "zero": false}, "axis": null},
"y": {"field": "o", "type": "quantitative", "scale": {"domain": [1.145, 1.1611], "nice": false, "zero": false},
"axis": {"orient": "right", "values": [1.1455,1.1465,1.1485,1.1495,1.1505,1.1515,1.1525,1.1535,1.1545,1.1555,1.1565,1.1575,1.1585,1.1595,1.1605], "format": ".4f", "labelPadding": 2, "labelOffset": -1.5, "labelOverlap": false}},
"y2": {"field": "c"},
"color": {"condition": {"test": "datum.c < datum.o", "value": "#000000"}, "value": "#8c8c8c"}
}
},
{
"data": {"name": "levels"},
"mark": {"type": "point", "shape": "M-1,-0.34H1V0.34H-1Z", "size": 441, "filled": true, "opacity": 1, "strokeWidth": 0},
"encoding": {
"x": {"datum": 360.5, "axis": null},
"y": {"field": "p", "type": "quantitative", "scale": {"domain": [1.145, 1.1611], "nice": false, "zero": false},
"axis": {"orient": "right", "values": [1.1455,1.1465,1.1485,1.1495,1.1505,1.1515,1.1525,1.1535,1.1545,1.1555,1.1565,1.1575,1.1585,1.1595,1.1605], "format": ".4f", "labelPadding": 2, "labelOffset": -1.5, "labelOverlap": false}},
"color": {"field": "kind", "type": "nominal", "scale": {"domain": ["major", "level", "minor", "bid"], "range": ["#ff0000", "#ff0000", "#ff0000", "#000000"]}, "legend": null}
}
},
{
"data": {"name": "levels"},
"mark": {"type": "text", "color": "#ffffff", "fontSize": 5.5, "font": "Liberation Sans", "align": "center", "baseline": "middle"},
"encoding": {
"x": {"datum": 360.5, "axis": null},
"y": {"field": "p", "type": "quantitative", "scale": {"domain": [1.145, 1.1611], "nice": false, "zero": false},
"axis": {"orient": "right", "values": [1.1455,1.1465,1.1485,1.1495,1.1505,1.1515,1.1525,1.1535,1.1545,1.1555,1.1565,1.1575,1.1585,1.1595,1.1605], "format": ".4f", "labelPadding": 2, "labelOffset": -1.5, "labelOverlap": false}},
"text": {"field": "p", "type": "quantitative", "format": ".4f"}
}
},
{
"data": {"values": [{"label": "▼ EURUSD,M5  1.1502 1.1502 1.1501 1.1501"}]},
"mark": {"type": "text", "color": "#333333", "fontSize": 5.5, "font": "Liberation Sans", "align": "left", "baseline": "middle"},
"encoding": {
"x": {"datum": 0.4, "axis": null},
"y": {"datum": 1.16081,
"axis": {"orient": "right", "values": [1.1455,1.1465,1.1485,1.1495,1.1505,1.1515,1.1525,1.1535,1.1545,1.1555,1.1565,1.1575,1.1585,1.1595,1.1605], "format": ".4f", "labelPadding": 2, "labelOffset": -1.5, "labelOverlap": false}},
"text": {"field": "label", "type": "nominal"}
}
}
]
},
{
"width": 874,
"height": 79,
"layer": [
{
"data": {"name": "bars"},
"mark": {"type": "bar", "width": 1, "color": "#b4b4b4"},
"encoding": {
"x": {"field": "i", "type": "quantitative", "scale": {"domain": [-0.6, 355.4], "nice": false, "zero": false},
"axis": {"values": [0,16,32,48,64,80,96,112,128,144,160,176,192,208,224,240,256,272,288,304,320,336,352], "labelExpr": "['16 Jun 2025','16 Jun 23:55','17 Jun 01:15','17 Jun 02:35','17 Jun 03:55','17 Jun 05:15','17 Jun 06:35','17 Jun 07:55','17 Jun 09:15','17 Jun 10:35','17 Jun 11:55','17 Jun 13:15','17 Jun 14:35','17 Jun 15:55','17 Jun 17:15','17 Jun 18:35','17 Jun 19:55','17 Jun 21:15','17 Jun 22:35','17 Jun 23:55','18 Jun 01:15','18 Jun 02:35','18 Jun 03:55'][round(datum.value/16)]", "labelAlign": "left", "labelOffset": 1, "labelPadding": 1, "labelOverlap": false, "labelFlush": false, "labelBound": false}},
"y": {"field": "m", "type": "quantitative", "scale": {"domain": [-0.001025, 0.000315], "nice": false, "zero": false},
"axis": {"orient": "right", "values": [0.00027, 0, -0.00092], "labelExpr": "datum.value > 0.0001 ? '0.00027' : (datum.value < -0.0001 ? '-0.00092' : '0.00')", "labelPadding": 0, "labelOverlap": false}},
"y2": {"datum": 0}
}
},
{
"data": {"name": "bars"},
"mark": {"type": "line", "color": "#ff2a2a", "strokeWidth": 1},
"encoding": {
"x": {"field": "i", "type": "quantitative", "scale": {"domain": [-0.6, 355.4], "nice": false, "zero": false},
"axis": {"values": [0,16,32,48,64,80,96,112,128,144,160,176,192,208,224,240,256,272,288,304,320,336,352], "labelExpr": "['16 Jun 2025','16 Jun 23:55','17 Jun 01:15','17 Jun 02:35','17 Jun 03:55','17 Jun 05:15','17 Jun 06:35','17 Jun 07:55','17 Jun 09:15','17 Jun 10:35','17 Jun 11:55','17 Jun 13:15','17 Jun 14:35','17 Jun 15:55','17 Jun 17:15','17 Jun 18:35','17 Jun 19:55','17 Jun 21:15','17 Jun 22:35','17 Jun 23:55','18 Jun 01:15','18 Jun 02:35','18 Jun 03:55'][round(datum.value/16)]", "labelAlign": "left", "labelOffset": 1, "labelPadding": 1, "labelOverlap": false, "labelFlush": false, "labelBound": false}},
"y": {"field": "m", "type": "quantitative", "scale": {"domain": [-0.001025, 0.000315], "nice": false, "zero": false},
"axis": {"orient": "right", "values": [0.00027, 0, -0.00092], "labelExpr": "datum.value > 0.0001 ? '0.00027' : (datum.value < -0.0001 ? '-0.00092' : '0.00')", "labelPadding": 0, "labelOverlap": false}}
}
},
{
"data": {"name": "vlines"},
"mark": {"type": "rule"},
"encoding": {
"x": {"field": "i", "type": "quantitative", "scale": {"domain": [-0.6, 355.4], "nice": false, "zero": false},
"axis": {"values": [0,16,32,48,64,80,96,112,128,144,160,176,192,208,224,240,256,272,288,304,320,336,352], "labelExpr": "['16 Jun 2025','16 Jun 23:55','17 Jun 01:15','17 Jun 02:35','17 Jun 03:55','17 Jun 05:15','17 Jun 06:35','17 Jun 07:55','17 Jun 09:15','17 Jun 10:35','17 Jun 11:55','17 Jun 13:15','17 Jun 14:35','17 Jun 15:55','17 Jun 17:15','17 Jun 18:35','17 Jun 19:55','17 Jun 21:15','17 Jun 22:35','17 Jun 23:55','18 Jun 01:15','18 Jun 02:35','18 Jun 03:55'][round(datum.value/16)]", "labelAlign": "left", "labelOffset": 1, "labelPadding": 1, "labelOverlap": false, "labelFlush": false, "labelBound": false}},
"color": {"field": "kind", "type": "nominal", "scale": {"domain": ["day", "session"], "range": ["#6fd400", "#a9dd6e"]}, "legend": null},
"strokeDash": {"field": "kind", "type": "nominal", "scale": {"domain": ["day", "session"], "range": [[1, 0], [4, 2, 1, 2]]}, "legend": null}
}
},
{
"data": {"values": [{"label": "MACD(21,34,1) 0.00020 0.00020"}]},
"mark": {"type": "text", "color": "#333333", "fontSize": 5.5, "font": "Liberation Sans", "align": "left", "baseline": "middle"},
"encoding": {
"x": {"datum": 0.8,
"axis": {"values": [0,16,32,48,64,80,96,112,128,144,160,176,192,208,224,240,256,272,288,304,320,336,352], "labelExpr": "['16 Jun 2025','16 Jun 23:55','17 Jun 01:15','17 Jun 02:35','17 Jun 03:55','17 Jun 05:15','17 Jun 06:35','17 Jun 07:55','17 Jun 09:15','17 Jun 10:35','17 Jun 11:55','17 Jun 13:15','17 Jun 14:35','17 Jun 15:55','17 Jun 17:15','17 Jun 18:35','17 Jun 19:55','17 Jun 21:15','17 Jun 22:35','17 Jun 23:55','18 Jun 01:15','18 Jun 02:35','18 Jun 03:55'][round(datum.value/16)]", "labelAlign": "left", "labelOffset": 1, "labelPadding": 1, "labelOverlap": false, "labelFlush": false, "labelBound": false}},
"y": {"datum": 0.00023,
"axis": {"orient": "right", "values": [0.00027, 0, -0.00092], "labelExpr": "datum.value > 0.0001 ? '0.00027' : (datum.value < -0.0001 ? '-0.00092' : '0.00')", "labelPadding": 0, "labelOverlap": false}},
"text": {"field": "label", "type": "nominal"}
}
}
]
}
]
}
